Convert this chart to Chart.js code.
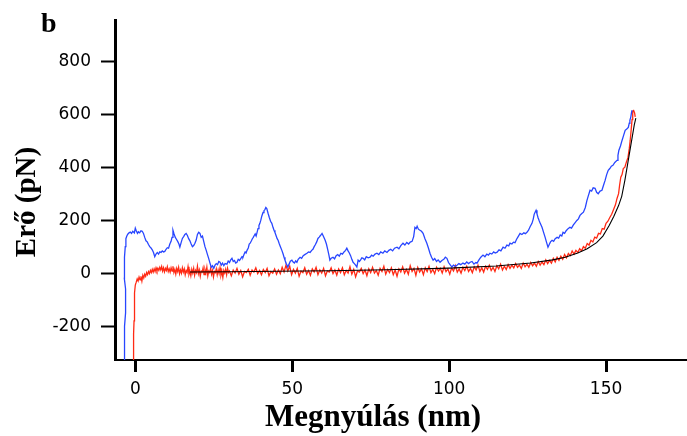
<!DOCTYPE html>
<html>
<head>
<meta charset="utf-8">
<script src="https://cdn.jsdelivr.net/npm/chart.js@4.4.1/dist/chart.umd.min.js"></script>
<style>
html,body{margin:0;padding:0;background:#fff;}
canvas{display:block;}
</style>
</head>
<body>
<canvas id="c" width="687" height="436"></canvas>
<script>
// ---- data ----
const xTicks = [0, 50, 100, 150];
const yTicks = [-200, 0, 200, 400, 600, 800];
const xTitle = "Megnyúlás (nm)";
const yTitle = "Erő (pN)";
const panelLabel = "b";

// blue trace [extension nm, force pN]
const blueTrace = [[-3.6,-335],[-3.4,-290],[-3.6,-240],[-3.3,-200],[-3.1,-150],[-3.0,-110],[-3.2,-60],[-3.5,-20],[-3.4,20],[-3.5,60],[-3.2,100],[-3.0,130],[-2.7,140],[-2.4,147],[-2.0,152],[-1.6,155],[-1.2,150],[-0.8,158],[-0.3,152],[0.0,170],[0.3,160],[0.7,150],[1.0,156],[1.4,152],[1.8,160],[2.2,158],[2.6,150],[3.0,135],[3.4,122],[3.8,118],[4.2,108],[4.6,100],[5.0,95],[5.4,88],[5.8,78],[6.2,62],[6.6,72],[7.0,78],[7.4,72],[7.8,80],[8.2,78],[8.6,84],[9.0,80],[9.4,82],[9.8,90],[10.2,96],[10.6,94],[11.0,110],[11.4,120],[11.7,135],[12.0,162],[12.3,150],[12.7,136],[13.1,128],[13.5,120],[13.9,110],[14.2,98],[14.6,115],[15.0,131],[15.4,138],[15.8,146],[16.2,150],[16.6,142],[17.0,130],[17.4,122],[17.8,110],[18.2,100],[18.6,104],[19.0,113],[19.4,125],[19.8,146],[20.2,154],[20.6,150],[21.0,135],[21.4,140],[21.8,120],[22.2,100],[22.6,86],[23.0,70],[23.4,55],[23.8,38],[24.2,22],[24.6,28],[25.0,18],[25.4,30],[25.8,36],[26.2,32],[26.6,44],[27.0,41],[27.4,30],[27.8,38],[28.2,28],[28.6,36],[29.2,34],[29.6,46],[30.0,40],[30.4,50],[30.8,56],[31.2,44],[31.6,48],[32.0,38],[32.4,41],[32.8,52],[33.2,48],[33.6,55],[34.0,62],[34.3,60],[34.7,72],[35.0,80],[35.3,76],[35.6,86],[36.0,95],[36.3,110],[36.6,113],[37.0,122],[37.3,130],[37.6,135],[37.9,142],[38.2,148],[38.5,140],[38.8,154],[39.1,168],[39.4,180],[39.7,188],[40.0,200],[40.3,215],[40.7,229],[41.0,236],[41.3,240],[41.6,248],[41.9,244],[42.3,226],[42.7,210],[43.1,196],[43.5,188],[43.9,172],[44.2,162],[44.5,154],[44.9,140],[45.2,130],[45.5,124],[45.9,110],[46.3,98],[46.7,86],[47.1,72],[47.4,60],[47.7,49],[48.1,36],[48.6,23],[49.0,34],[49.4,45],[49.9,49],[50.3,42],[50.7,38],[51.1,46],[51.5,41],[51.9,52],[52.5,60],[53.0,56],[53.5,66],[54.0,70],[54.7,75],[55.2,80],[55.7,78],[56.2,86],[56.6,90],[57.0,100],[57.4,108],[57.8,118],[58.2,131],[58.6,136],[59.0,142],[59.5,150],[59.9,140],[60.5,124],[60.9,110],[61.3,90],[61.7,68],[62.0,49],[62.4,56],[63.0,60],[63.5,54],[64.0,66],[64.5,70],[65.0,64],[65.5,75],[66.0,72],[66.5,80],[67.0,86],[67.4,94],[67.8,84],[68.2,76],[68.6,66],[69.0,52],[69.4,41],[69.8,36],[70.2,30],[70.6,23],[71.0,49],[71.4,44],[71.8,50],[72.2,58],[72.6,56],[73.1,50],[73.6,62],[74.2,58],[74.8,60],[75.3,68],[75.8,64],[76.4,72],[77.0,75],[77.6,70],[78.2,80],[78.9,75],[79.5,84],[80.2,78],[80.8,86],[81.4,90],[82.0,84],[82.6,94],[83.4,98],[84.0,92],[84.6,104],[85.3,113],[85.9,106],[86.5,116],[87.1,110],[87.6,117],[88.2,120],[88.7,138],[89.1,173],[89.5,168],[89.8,177],[90.2,166],[90.7,162],[91.2,158],[91.7,150],[92.3,130],[92.9,113],[93.4,95],[93.9,75],[94.4,60],[94.9,49],[95.4,55],[96.0,44],[96.5,50],[97.1,41],[97.7,48],[98.3,52],[98.8,60],[99.3,56],[99.8,40],[100.3,32],[100.9,23],[101.4,30],[102.0,26],[102.5,30],[103.1,36],[103.7,32],[104.4,38],[105.0,34],[105.6,42],[106.2,36],[106.7,41],[107.3,44],[107.9,34],[108.5,40],[108.9,38],[109.5,50],[110.1,60],[110.8,68],[111.4,62],[112.0,72],[112.5,68],[113.0,75],[113.6,72],[114.2,80],[114.7,76],[115.3,79],[115.9,88],[116.5,84],[117.2,98],[117.8,94],[118.4,106],[119.0,103],[119.4,113],[120.0,110],[120.5,117],[121.0,115],[121.5,128],[122.0,138],[122.6,150],[123.2,146],[123.8,152],[124.3,149],[124.8,154],[125.3,162],[125.8,175],[126.4,188],[126.8,204],[127.1,222],[127.4,230],[127.7,237],[128.0,224],[128.3,211],[128.7,198],[129.1,186],[129.6,173],[130.1,154],[130.6,135],[131.0,118],[131.5,98],[131.9,108],[132.3,118],[132.8,124],[133.3,120],[133.8,130],[134.4,135],[134.9,132],[135.4,144],[135.9,140],[136.3,154],[136.8,150],[137.3,160],[137.9,168],[138.5,173],[139.0,170],[139.6,182],[140.1,190],[140.7,199],[141.2,205],[141.7,218],[142.2,224],[142.8,230],[143.4,248],[143.9,274],[144.3,290],[144.9,313],[145.4,310],[145.9,322],[146.5,320],[147.0,305],[147.5,300],[148.1,310],[148.7,313],[149.2,332],[149.7,350],[150.2,372],[150.7,388],[151.2,395],[151.7,404],[152.2,407],[152.8,418],[153.5,426],[153.8,445],[154.1,464],[154.6,480],[155.1,501],[155.6,520],[156.1,539],[156.6,544],[157.1,550],[157.4,566],[157.6,577],[157.9,590],[158.1,605],[158.3,615]];

// red trace [extension nm, force pN]
const redTrace = [[-0.7,-335],[-0.6,-290],[-0.5,-230],[-0.4,-180],[-0.3,-120],[-0.2,-75],[0.0,-45],[0.3,-34],[0.6,-22],[0.9,-30],[1.2,-15],[1.5,-25],[1.8,-12],[2.1,-30],[2.4,-8],[2.7,-18],[3.0,-4],[3.3,-12],[3.6,2],[3.9,-6],[4.2,6],[4.5,-2],[4.8,10],[5.1,2],[5.4,14],[5.7,4],[6.0,16],[6.3,6],[6.6,20],[6.9,8],[7.2,18],[7.5,10],[7.8,22],[8.1,12],[8.4,25],[8.7,8],[9.0,20],[9.3,5],[9.6,18],[9.9,10],[10.2,24],[10.5,6],[10.8,16],[11.1,4],[11.4,20],[11.7,8],[12.0,26],[12.3,2],[12.6,14],[12.9,-4],[13.2,18],[13.5,6],[13.8,22],[14.1,-2],[14.4,12],[14.7,0],[15.0,20],[15.3,4],[15.6,16],[15.9,-6],[16.2,10],[16.5,2],[16.8,24],[17.1,-4],[17.4,8],[17.7,-10],[18.0,14],[18.3,0],[18.6,18],[18.9,-8],[19.2,10],[19.5,2],[19.8,26],[20.1,-2],[20.4,12],[20.7,-12],[21.0,8],[21.3,4],[21.6,20],[21.9,-6],[22.2,14],[22.5,0],[22.8,22],[23.1,-10],[23.4,8],[23.7,2],[24.0,18],[24.3,-4],[24.6,10],[24.9,-14],[25.2,6],[25.5,2],[25.8,16],[26.1,-6],[26.4,12],[26.7,-2],[27.0,20],[27.3,-8],[27.6,6],[27.9,-16],[28.2,10],[28.5,0],[28.8,14],[29.1,-6],[29.4,18],[29.7,2],[30.0,8],[30.6,-10],[31.2,12],[31.8,0],[32.4,18],[33.0,-4],[33.6,10],[34.2,-14],[34.8,6],[35.4,2],[36.0,14],[36.6,-8],[37.2,12],[37.8,4],[38.4,20],[39.0,-2],[39.6,10],[40.2,-6],[40.8,14],[41.4,2],[42.0,18],[42.6,-10],[43.2,6],[43.8,0],[44.4,16],[45.0,-4],[45.6,12],[46.2,-2],[46.8,22],[47.4,4],[48.0,30],[48.6,8],[49.2,26],[49.8,-6],[50.4,14],[51.0,0],[51.6,18],[52.2,-12],[52.8,8],[53.4,2],[54.0,20],[54.6,-4],[55.2,10],[55.8,-8],[56.4,16],[57.0,4],[57.6,22],[58.2,-6],[58.8,12],[59.4,0],[60.0,18],[60.6,-10],[61.2,8],[61.8,4],[62.4,20],[63.0,-2],[63.6,12],[64.2,-8],[64.8,16],[65.4,2],[66.0,20],[66.6,-6],[67.2,10],[67.8,0],[68.4,24],[69.0,-4],[69.6,14],[70.2,-14],[70.8,8],[71.4,4],[72.0,18],[72.6,-2],[73.2,12],[73.8,-10],[74.4,16],[75.0,2],[75.6,22],[76.2,0],[76.8,10],[77.4,-8],[78.0,18],[78.6,6],[79.2,26],[79.8,-4],[80.4,14],[81.0,2],[81.6,20],[82.2,-6],[82.8,12],[83.4,-12],[84.0,16],[84.6,4],[85.2,24],[85.8,0],[86.4,14],[87.0,-4],[87.6,28],[88.2,6],[88.8,18],[89.4,-8],[90.0,22],[90.6,4],[91.2,16],[91.8,-6],[92.4,20],[93.0,6],[93.6,26],[94.2,2],[94.8,14],[95.4,-2],[96.0,22],[96.6,8],[97.2,18],[97.8,0],[98.4,24],[99.0,6],[99.6,16],[100.2,-4],[100.8,20],[101.4,8],[102.0,28],[102.6,4],[103.2,16],[103.8,0],[104.4,22],[105.0,10],[105.6,26],[106.2,6],[106.8,18],[107.4,2],[108.0,24],[108.6,12],[109.2,30],[109.8,6],[110.4,20],[111.0,4],[111.6,26],[112.2,14],[112.8,30],[113.4,10],[114.0,22],[114.6,6],[115.2,28],[115.8,16],[116.4,34],[117.0,12],[117.6,26],[118.2,14],[118.8,32],[119.4,18],[120.0,30],[120.6,20],[121.2,36],[121.8,22],[122.4,30],[123.0,18],[123.6,38],[124.2,24],[124.8,34],[125.4,22],[126.0,40],[126.6,28],[127.2,38],[127.8,26],[128.4,44],[129.0,30],[129.6,42],[130.2,32],[130.8,50],[131.4,36],[132.0,48],[132.6,38],[133.2,56],[133.8,42],[134.4,60],[135.0,48],[135.6,64],[136.2,52],[136.8,70],[137.4,58],[138.0,74],[138.6,66],[139.2,84],[139.8,72],[140.4,86],[141.0,78],[141.6,92],[142.2,84],[142.8,100],[143.4,94],[144.0,112],[144.6,106],[145.2,124],[145.8,118],[146.4,136],[147.0,132],[147.6,150],[148.2,148],[148.8,168],[149.4,166],[150.0,188],[150.6,196],[151.2,210],[151.8,222],[152.4,240],[153.0,258],[153.5,282],[154.0,300],[154.3,330],[154.7,362],[155.1,372],[155.5,395],[156.0,400],[156.5,420],[157.0,437],[157.4,470],[157.7,501],[158.0,540],[158.3,580],[158.5,612],[158.8,614],[159.1,605],[159.3,590]];

// black fit curve [extension nm, force pN]
const fitCurve = [[17.4,4],[30,5],[45,7],[62,9],[80,13],[100,19],[115,27],[126,38],[133,50],[137,60],[141,76],[144,92],[147,115],[149,140],[151,180],[152.5,215],[154,255],[155,290],[156,350],[157,420],[158,490],[159,560],[159.5,585]];

const toPts = arr => arr.map(p => ({x: p[0], y: p[1]}));

const titlesPlugin = {
  id: 'titles',
  afterDraw(chart) {
    const c = chart.ctx;
    c.save();
    c.fillStyle = '#000';
    c.textBaseline = 'alphabetic';
    c.font = 'bold 28px "Liberation Serif", "Times New Roman", serif';
    c.textAlign = 'left';
    c.fillText(panelLabel, 41, 32);
    c.font = 'bold 31px "Liberation Serif", "Times New Roman", serif';
    c.textAlign = 'center';
    c.fillText(xTitle, 373, 426);
    c.translate(35, 202);
    c.rotate(-Math.PI / 2);
    c.font = 'bold 29px "Liberation Serif", "Times New Roman", serif';
    c.fillText(yTitle, 0, 0);
    c.restore();
  }
};

const lineDs = (data, color, w) => ({
  data: toPts(data), borderColor: color, borderWidth: w, showLine: true,
  pointRadius: 0, pointHoverRadius: 0, tension: 0, fill: false
});

new Chart(document.getElementById('c'), {
  type: 'scatter',
  data: {
    datasets: [
      lineDs(blueTrace, '#2846ff', 1.3),
      lineDs(fitCurve, '#000000', 1.1),
      lineDs(redTrace, '#ff2a14', 1.3)
    ]
  },
  options: {
    responsive: false,
    animation: false,
    events: [],
    layout: { padding: { top: 20, left: 0, right: 0, bottom: 0 } },
    plugins: { legend: { display: false }, tooltip: { enabled: false }, title: { display: false } },
    scales: {
      x: {
        type: 'linear', min: -6.47, max: 175.8,
        afterBuildTicks: s => { s.ticks = xTicks.map(v => ({ value: v })); },
        afterFit: s => { s.height = 76; },
        grid: { drawOnChartArea: false, drawTicks: true, tickLength: 12, tickWidth: 3, tickColor: '#000' },
        border: { display: true, color: '#000', width: 2 },
        ticks: { color: '#000', font: { family: '"DejaVu Sans", Verdana, sans-serif', size: 17 }, padding: 7, maxRotation: 0, autoSkip: false }
      },
      y: {
        type: 'linear', min: -328, max: 955,
        afterBuildTicks: s => { s.ticks = yTicks.map(v => ({ value: v })); },
        afterFit: s => { s.width = 115; },
        grid: { drawOnChartArea: false, drawTicks: true, tickLength: 14, tickWidth: 2, tickColor: '#000' },
        border: { display: true, color: '#000', width: 3 },
        ticks: { color: '#000', font: { family: '"DejaVu Sans", Verdana, sans-serif', size: 17 }, padding: 10, autoSkip: false }
      }
    }
  },
  plugins: [titlesPlugin]
});
</script>
</body>
</html>
